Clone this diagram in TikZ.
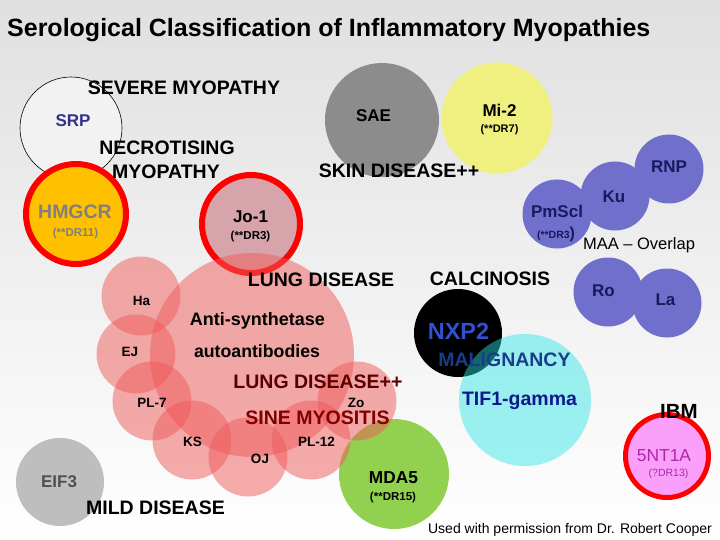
\documentclass[tikz,border=0pt]{standalone}
\usepackage{fontspec}
\setmainfont{Liberation Sans}
\definecolor{bgtop}{RGB}{224,224,224}
\definecolor{srpfill}{RGB}{242,242,242}
\definecolor{srptext}{RGB}{50,50,140}
\definecolor{hmgfill}{RGB}{255,192,0}
\definecolor{hmgtext}{RGB}{128,128,128}
\definecolor{jofill}{RGB}{214,164,170}
\definecolor{lungfill}{RGB}{240,90,90}
\definecolor{saefill}{RGB}{140,140,140}
\definecolor{mifill}{RGB}{240,240,128}
\definecolor{maafill}{RGB}{112,112,204}
\definecolor{maatext}{RGB}{25,25,95}
\definecolor{tiffill}{RGB}{40,230,230}
\definecolor{mdafill}{RGB}{146,208,80}
\definecolor{ibmfill}{RGB}{250,160,250}
\definecolor{ibmtext}{RGB}{170,40,170}
\definecolor{eiffill}{RGB}{190,190,190}
\definecolor{eiftext}{RGB}{80,80,80}
\definecolor{nxptext}{RGB}{50,80,210}
\definecolor{maltext}{RGB}{25,60,140}
\definecolor{tiftext}{RGB}{15,25,140}
\definecolor{lungtext}{RGB}{90,0,0}
\definecolor{sinetext}{RGB}{128,0,0}
\newcommand\pxfont[1]{\fontsize{#1}{#1}\selectfont}
\begin{document}
\begin{tikzpicture}[x=1pt, y=-1pt,
     bubble/.style={circle, inner sep=0pt, minimum size=#1},
     ring/.style={draw=red, line width=6pt},
     head/.style={font=\bfseries\pxfont{19.5}, inner sep=0pt, text depth=0pt},
     abody/.style={font=\bfseries\pxfont{17}, inner sep=0pt, text depth=0pt},
     minor/.style={font=\bfseries\pxfont{13.5}, inner sep=0pt, text depth=0pt},
     hla/.style={font=\bfseries\pxfont{11.5}, inner sep=0pt, text depth=0pt}]
\useasboundingbox (0,0) rectangle (720,540);
\shade[top color=bgtop, bottom color=white] (0,0) rectangle (720,540);
\node[bubble=102pt, fill=srpfill, draw=black, line width=0.6pt] (srp) at (71,128) {};
\node[bubble=100pt, fill=hmgfill, ring] (hmgcr) at (76,214) {};
\node[bubble=114pt, fill=saefill] (sae) at (382,120) {};
\node[bubble=111pt, fill=mifill] (mitwo) at (497,118) {};
\foreach \nm/\px/\py in {rnp/669/169, ku/615/196, pmscl/557/214, ro/608/292, la/667/303}
    \node[bubble=69pt, fill=maafill] (\nm) at (\px,\py) {};
\node[bubble=98pt, fill=jofill, ring] (joone) at (251,224) {};
\node[bubble=110pt, fill=mdafill] (mda) at (394,474) {};
\node[bubble=88pt, fill=eiffill] (eif) at (60,482) {};
\node[bubble=88pt, fill=black] (nxp) at (458,333) {};
\node[bubble=132pt, fill=tiffill, fill opacity=0.45] (tif) at (525,400) {};
\node[bubble=204pt, fill=lungfill, fill opacity=0.5] (anti) at (252,355) {};
\foreach \nm/\px/\py in {ha/141/296, ej/136/354, plseven/152/401, ks/192/440, 
    oj/248/457, pltwelve/311/440, zo/357/401}
    \node[bubble=79pt, fill=lungfill, fill opacity=0.5] (\nm) at (\px,\py) {};
\node[bubble=83pt, fill=ibmfill, draw=red, line width=5pt] (ntia) at (667,456) {};

\node[anchor=west, font=\bfseries\pxfont{25}, inner sep=0pt, text depth=0pt] (title) at (7,27)
    {Serological Classification of Inflammatory Myopathies};
\node[head] (severe) at (184,87.5) {SEVERE MYOPATHY};
\node[abody, text=srptext] (srp-l) at (73,121) {SRP};
\node[head] (necro) at (167,148) {NECROTISING};
\node[head] (necro2) at (166,171.5) {MYOPATHY};
\node[head, text=hmgtext] (hmgcr-l) at (75,211.5) {HMGCR};
\node[hla, text=hmgtext] (hmgcr-d) at (75.5,232) {(**DR11)};
\node[abody] (joone-l) at (250.5,217) {Jo-1};
\node[hla] (joone-d) at (250.5,235.5) {(**DR3)};
\node[abody] (sae-l) at (373.5,116) {SAE};
\node[abody] (mitwo-l) at (499.5,110.5) {Mi-2};
\node[hla, font=\bfseries\pxfont{11}] (mitwo-d) at (499.5,129) {(**DR7)};
\node[head] (skin) at (399,171) {SKIN DISEASE++};
\foreach \nm/\px/\py/\txt in {rnp/669/167/RNP, ku/614/197/Ku, pmscl/557/211/PmScl, 
    ro/603.5/291/Ro, la/665.5/300/La}
    \node[abody, text=maatext] (\nm-l) at (\px,\py) {\txt};
\node[inner sep=0pt, text depth=0pt, text=maatext, font=\bfseries] (pmscl-d) at (556,233)
    {{\pxfont{10.5}(**DR3}{\pxfont{16})}};
\node[inner sep=0pt, text depth=0pt, font=\pxfont{16.5}] (overlap) at (639,244) {MAA -- Overlap};
\node[head] (lung) at (321,280) {LUNG DISEASE};
\node[head] (calc) at (490,278.5) {CALCINOSIS};
\foreach \nm/\px/\py/\txt in {ha/141.5/300.5/Ha, ej/130/351.5/EJ, plseven/152/402.5/PL-7, 
    ks/192.5/441.5/KS, oj/260/458.5/OJ, pltwelve/316.5/441.5/PL-12, zo/356/402.5/Zo}
    \node[minor] (\nm-l) at (\px,\py) {\txt};
\node[abody, font=\bfseries\pxfont{18}] (anti-l) at (257.5,319) {Anti-synthetase};
\node[abody, font=\bfseries\pxfont{17.7}] (anti-l2) at (257,351.5) {autoantibodies};
\node[head, font=\bfseries\pxfont{23.4}, text=nxptext] (nxp-l) at (458.5,331.5) {NXP2};
\node[head, text=maltext] (malig) at (504.5,359.5) {MALIGNANCY};
\node[head, text=lungtext] (lungpp) at (318,381.5) {LUNG DISEASE++};
\node[head, text=tiftext] (tif-l) at (519.5,399) {TIF1-gamma};
\node[head, text=sinetext] (sine) at (317.5,418) {SINE MYOSITIS};
\node[head, font=\bfseries\pxfont{20.5}] (ibm) at (679,411) {IBM};
\node[inner sep=0pt, text depth=0pt, font=\pxfont{17.4}, text=ibmtext] (ntia-l) at (664,455.5) {5NT1A};
\node[inner sep=0pt, text depth=0pt, font=\pxfont{10.5}, text=ibmtext] (ntia-d) at (668.5,473) {(?DR13)};
\node[abody, text=eiftext] (eif-l) at (59,481.5) {EIF3};
\node[abody, font=\bfseries\pxfont{17.3}] (mda-l) at (393.5,478) {MDA5};
\node[hla] (mda-d) at (393,496) {(**DR15)};
\node[head] (mild) at (155.5,508) {MILD DISEASE};
\node[inner sep=0pt, text depth=0pt, font=\pxfont{14}] (credit) at (570,528)
    {Used with permission from Dr. Robert Cooper};
\end{tikzpicture}
\end{document}
